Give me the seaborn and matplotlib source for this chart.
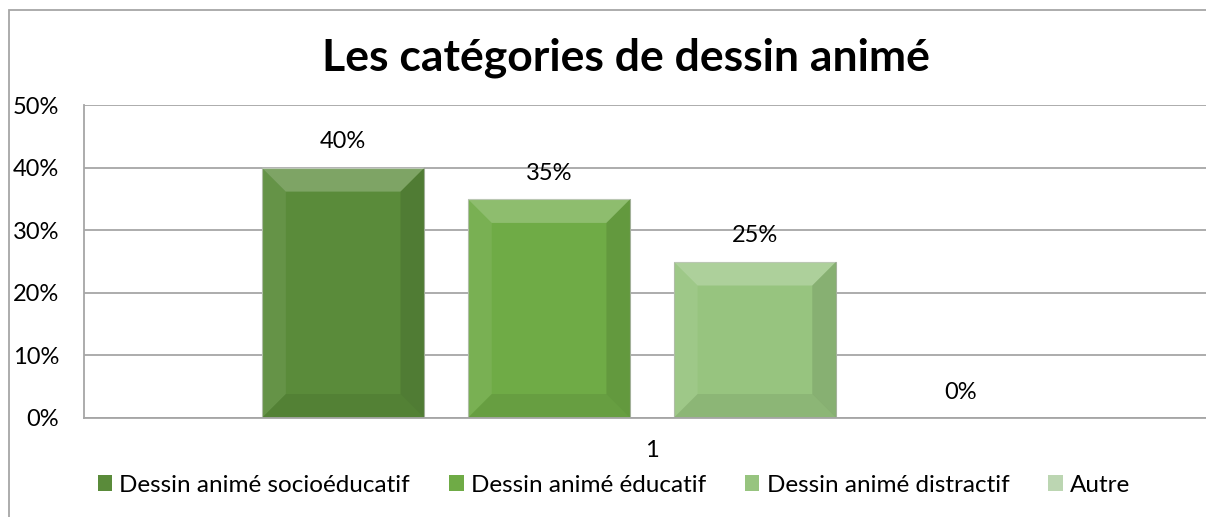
import pandas as pd
import numpy as np
import seaborn as sns
import matplotlib.pyplot as plt
from matplotlib.patches import Patch, Rectangle, Polygon

sns.set_style("white")
plt.rcParams["font.family"] = ["Lato", "DejaVu Sans"]
plt.rcParams["text.color"] = "black"
plt.rcParams["xtick.color"] = "black"
plt.rcParams["ytick.color"] = "black"

# données
categorie = ["1", "1", "1", "1"]
series = ["Dessin animé socioéducatif", "Dessin animé éducatif",
          "Dessin animé distractif", "Autre"]
valeurs = [0.40, 0.35, 0.25, 0.0]
couleurs = ["#5a8b3a", "#6fab46", "#97c47f", "#bcd6b2"]
ticks_y = [0, 0.1, 0.2, 0.3, 0.4, 0.5]

df = pd.DataFrame({"cat": categorie, "serie": series, "val": valeurs})

fig = plt.figure(figsize=(12.06, 5.17), dpi=100)
ax = fig.add_axes([84 / 1206, 1 - 418 / 517, 1136 / 1206, 313 / 517])

sns.barplot(data=df, x="cat", y="val", hue="serie", hue_order=series,
            palette=couleurs, saturation=1, width=0.725, gap=0.21, legend=False,
            ax=ax, edgecolor="#a9b8a0", linewidth=0.8)

ax.set_xlim(-0.5, 0.5)
ax.set_ylim(0, 0.5)

# effet biseauté (style Excel) à partir des barres dessinées
bx = 24 / 1136
by = 24 / 313 * 0.5
for p in ax.patches:
    x0, y0, w, h = p.get_x(), p.get_y(), p.get_width(), p.get_height()
    if h <= 0:
        continue
    x1, y1 = x0 + w, y0 + h
    faces = [
        ([(x0, y1), (x1, y1), (x1 - bx, y1 - by), (x0 + bx, y1 - by)], "white", 0.22),
        ([(x0, y0), (x0, y1), (x0 + bx, y1 - by), (x0 + bx, y0 + by)], "white", 0.07),
        ([(x1, y0), (x1, y1), (x1 - bx, y1 - by), (x1 - bx, y0 + by)], "black", 0.10),
        ([(x0, y0), (x1, y0), (x1 - bx, y0 + by), (x0 + bx, y0 + by)], "black", 0.07),
    ]
    for pts, c, a in faces:
        ax.add_patch(Polygon(pts, closed=True, facecolor=c, alpha=a, edgecolor="none", zorder=p.get_zorder() + 0.1))

# étiquettes de données
for cont, v in zip(ax.containers, valeurs):
    ax.bar_label(cont, labels=[f"{v:.0%}"], padding=11, fontsize=17)

ax.set_yticks(ticks_y)
ax.set_yticklabels([f"{t:.0%}" for t in ticks_y])
ax.set_xlabel("")
ax.set_ylabel("")
ax.tick_params(axis="y", length=0, pad=18, labelsize=17)
ax.tick_params(axis="x", length=0, pad=16, labelsize=17)
ax.yaxis.grid(True, color="#a6a6a6", linewidth=1.3)
ax.set_axisbelow(True)
for s in ["top", "right"]:
    ax.spines[s].set_visible(False)
for s in ["left", "bottom"]:
    ax.spines[s].set_color("#a6a6a6")
    ax.spines[s].set_linewidth(1.3)

fig.text(626 / 1206, 1 - 58 / 517, "Les catégories de dessin animé",
         ha="center", va="center", fontsize=32, fontweight="bold")

# légende
handles = [Patch(facecolor=c, edgecolor="none") for c in couleurs]
fig.legend(handles, series, loc="center", bbox_to_anchor=(614 / 1206, 1 - 485 / 517),
           ncol=4, frameon=False, fontsize=17.5, handlelength=0.6, handleheight=0.6,
           handletextpad=0.3, columnspacing=1.6)

# cadre du graphique
fig.add_artist(Rectangle((9 / 1206, -0.1), 1.2, 1.1 - 10 / 517, transform=fig.transFigure,
                         fill=False, edgecolor="#a6a6a6", linewidth=1.3))

fig.savefig("out.png", dpi=100)
